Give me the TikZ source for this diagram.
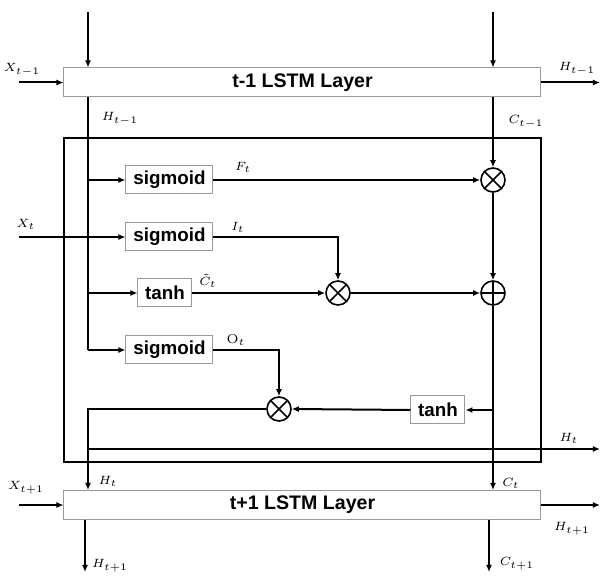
\documentclass[tikz,border=0pt]{standalone}
\usepackage{amsmath}
\usepackage{fontspec}
\setsansfont{Liberation Sans}
\usetikzlibrary{arrows.meta,positioning,calc}

\begin{document}
\begin{tikzpicture}[x=0.5pt,y=-0.5pt,
  every node/.style={inner sep=0pt},
  layer/.style={draw=gray!80,line width=0.5pt,fill=white,minimum width=238.5pt,minimum height=14.5pt,font=\sffamily\bfseries\fontsize{9.8}{11}\selectfont},
  gate/.style={draw=gray!80,line width=0.5pt,fill=white,minimum height=14pt,font=\sffamily\bfseries\fontsize{9.4}{11}\selectfont},
  mul/.style={circle,draw,line width=0.8pt,minimum size=12pt,fill=white,path picture={\draw[line width=0.8pt] (path picture bounding box.north west)--(path picture bounding box.south east) (path picture bounding box.north east)--(path picture bounding box.south west);}},
  add/.style={circle,draw,line width=0.8pt,minimum size=12pt,fill=white,path picture={\draw[line width=0.8pt] (path picture bounding box.north)--(path picture bounding box.south) (path picture bounding box.west)--(path picture bounding box.east);}},
  flow/.style={line width=1pt,-{Latex[length=3.5pt,width=3pt]}},
  wire/.style={line width=1pt},
  lbl/.style={font=\fontsize{6.4}{7}\selectfont}]
\useasboundingbox (0,0) rectangle (602,577);
\node[draw,line width=0.8pt,minimum width=238.5pt,minimum height=162pt] (cell) at (302.5,300) {};
\node[layer] (L1) at (302.5,82.5) {t-1 LSTM Layer};
\node[layer] (L2) at (302.5,505) {t+1 LSTM Layer};
\node[gate,minimum width=43.5pt] (fg) at (169.5,180) {sigmoid};
\node[gate,minimum width=43.5pt] (ig) at (169.5,237) {sigmoid};
\node[gate,minimum width=27pt] (cg) at (165,293) {tanh};
\node[gate,minimum width=43.5pt] (og) at (169.5,350) {sigmoid};
\node[gate,minimum width=27pt] (th) at (438,410) {tanh};
\node[mul] (m1) at (493,180) {};
\node[mul] (m2) at (338,293) {};
\node[add] (a1) at (493,293) {};
\node[mul] (m3) at (279,409) {};
\coordinate (hin) at (88,12);
\coordinate (cin) at (493,12);
\coordinate (xin1) at (19,82.5);
\coordinate (hout1) at (600,82.5);
\coordinate (xin) at (19,237);
\coordinate (hbus) at (88,350);
\coordinate (ctap) at (493,410);
\coordinate (htap) at (88,449);
\coordinate (hout) at (600,449);
\coordinate (xin2) at (19,505);
\coordinate (hout2) at (600,505);
\coordinate (hdown) at (85,572);
\coordinate (cdown) at (489,572);
\draw[flow] (hin) -- (hin |- L1.north);
\draw[flow] (cin) -- (cin |- L1.north);
\draw[flow] (xin1) -- (L1.west);
\draw[flow] (L1.east) -- (hout1);
\draw[wire] (hin |- L1.south) -- (hbus);
\draw[flow] (hin |- fg) -- (fg.west);
\draw[flow] (hin |- cg) -- (cg.west);
\draw[flow] (hbus) -- (og.west);
\draw[flow] (xin) -- (ig.west);
\draw[flow] (cin |- L1.south) -- (m1.north);
\draw[flow] (fg.east) -- (m1.west);
\draw[flow] (ig.east) -| (m2.north);
\draw[flow] (cg.east) -- (m2.west);
\draw[flow] (m2.east) -- (a1.west);
\draw[flow] (m1.south) -- (a1.north);
\draw[flow] (a1.south) -- (cin |- L2.north);
\draw[flow] (ctap) -- (th.east);
\draw[flow] (th.west) -- (m3.east);
\draw[flow] (og.east) -| (m3.north);
\draw[flow] (m3.west) -| (hin |- L2.north);
\draw[flow] (htap) -- (hout);
\draw[flow] (xin2) -- (L2.west);
\draw[flow] (L2.east) -- (hout2);
\draw[flow] (hdown |- L2.south) -- (hdown);
\draw[flow] (cdown |- L2.south) -- (cdown);
\node[lbl] (lx1) at (22,70) {$X_{t-1}$};
\node[lbl] (lh1) at (120,119) {$H_{t-1}$};
\node[lbl] (lc1) at (526,122) {$C_{t-1}$};
\node[lbl] (lho1) at (577,69) {$H_{t-1}$};
\node[lbl] (lf) at (243,167) {$F_t$};
\node[lbl] (lx) at (26,224) {$X_t$};
\node[lbl] (li) at (238,227) {$I_t$};
\node[lbl] (lct) at (208,281) {$\tilde{C}_t$};
\node[lbl] (lo) at (236,340) {$\mathrm{O}_t$};
\node[lbl] (lho) at (569,438) {$H_t$};
\node[lbl] (lh) at (108,481) {$H_t$};
\node[lbl] (lc) at (511,483) {$C_t$};
\node[lbl] (lx2) at (26,488) {$X_{t+1}$};
\node[lbl] (lho2) at (572,529) {$H_{t+1}$};
\node[lbl] (lh2) at (110,566) {$H_{t+1}$};
\node[lbl] (lc2) at (517,564) {$C_{t+1}$};
\end{tikzpicture}
\end{document}
